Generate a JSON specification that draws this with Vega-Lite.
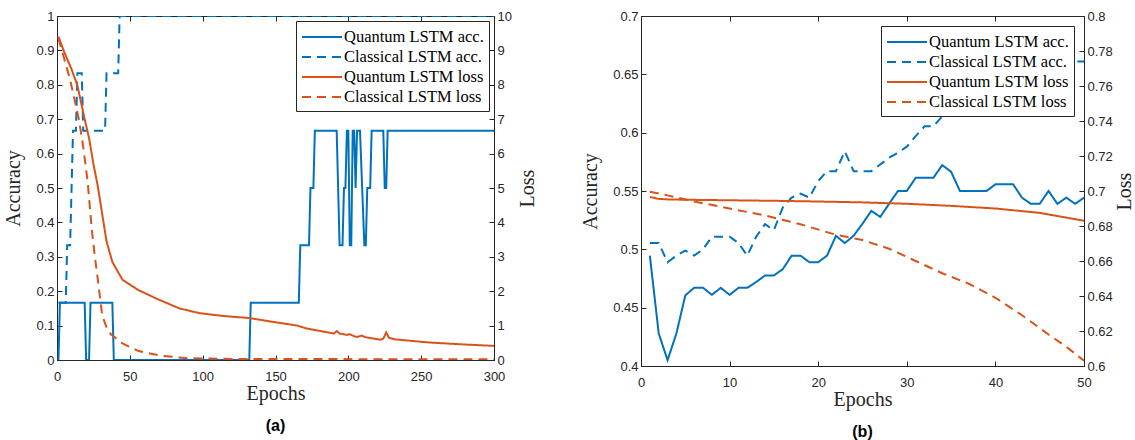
{
  "$schema": "https://vega.github.io/schema/vega-lite/v6.json",
  "background": "white",
  "padding": {"left": 3, "top": 9, "right": 0, "bottom": 0},
  "spacing": 42,
  "datasets": {
    "a_acc": [
      {"series": "Quantum LSTM acc.", "epoch": 1, "value": 0},
      {"series": "Quantum LSTM acc.", "epoch": 2, "value": 0.1667},
      {"series": "Quantum LSTM acc.", "epoch": 19, "value": 0.1667},
      {"series": "Quantum LSTM acc.", "epoch": 20, "value": 0},
      {"series": "Quantum LSTM acc.", "epoch": 22, "value": 0},
      {"series": "Quantum LSTM acc.", "epoch": 23, "value": 0.1667},
      {"series": "Quantum LSTM acc.", "epoch": 38, "value": 0.1667},
      {"series": "Quantum LSTM acc.", "epoch": 39, "value": 0},
      {"series": "Quantum LSTM acc.", "epoch": 132, "value": 0},
      {"series": "Quantum LSTM acc.", "epoch": 133, "value": 0.1667},
      {"series": "Quantum LSTM acc.", "epoch": 166, "value": 0.1667},
      {"series": "Quantum LSTM acc.", "epoch": 167, "value": 0.3333},
      {"series": "Quantum LSTM acc.", "epoch": 173, "value": 0.3333},
      {"series": "Quantum LSTM acc.", "epoch": 174, "value": 0.5},
      {"series": "Quantum LSTM acc.", "epoch": 176, "value": 0.5},
      {"series": "Quantum LSTM acc.", "epoch": 177, "value": 0.6667},
      {"series": "Quantum LSTM acc.", "epoch": 192, "value": 0.6667},
      {"series": "Quantum LSTM acc.", "epoch": 194, "value": 0.3333},
      {"series": "Quantum LSTM acc.", "epoch": 196, "value": 0.3333},
      {"series": "Quantum LSTM acc.", "epoch": 197, "value": 0.5},
      {"series": "Quantum LSTM acc.", "epoch": 198, "value": 0.5},
      {"series": "Quantum LSTM acc.", "epoch": 199, "value": 0.6667},
      {"series": "Quantum LSTM acc.", "epoch": 200, "value": 0.6667},
      {"series": "Quantum LSTM acc.", "epoch": 201, "value": 0.3333},
      {"series": "Quantum LSTM acc.", "epoch": 202, "value": 0.3333},
      {"series": "Quantum LSTM acc.", "epoch": 203, "value": 0.6667},
      {"series": "Quantum LSTM acc.", "epoch": 204, "value": 0.6667},
      {"series": "Quantum LSTM acc.", "epoch": 205, "value": 0.5},
      {"series": "Quantum LSTM acc.", "epoch": 206, "value": 0.6667},
      {"series": "Quantum LSTM acc.", "epoch": 208, "value": 0.6667},
      {"series": "Quantum LSTM acc.", "epoch": 211, "value": 0.3333},
      {"series": "Quantum LSTM acc.", "epoch": 212, "value": 0.3333},
      {"series": "Quantum LSTM acc.", "epoch": 213, "value": 0.5},
      {"series": "Quantum LSTM acc.", "epoch": 215, "value": 0.5},
      {"series": "Quantum LSTM acc.", "epoch": 216, "value": 0.6667},
      {"series": "Quantum LSTM acc.", "epoch": 224, "value": 0.6667},
      {"series": "Quantum LSTM acc.", "epoch": 225, "value": 0.5},
      {"series": "Quantum LSTM acc.", "epoch": 226, "value": 0.5},
      {"series": "Quantum LSTM acc.", "epoch": 227, "value": 0.6667},
      {"series": "Quantum LSTM acc.", "epoch": 300, "value": 0.6667},
      {"series": "Classical LSTM acc.", "epoch": 1, "value": 0.1667},
      {"series": "Classical LSTM acc.", "epoch": 6, "value": 0.1667},
      {"series": "Classical LSTM acc.", "epoch": 7, "value": 0.3333},
      {"series": "Classical LSTM acc.", "epoch": 9, "value": 0.3333},
      {"series": "Classical LSTM acc.", "epoch": 10, "value": 0.5},
      {"series": "Classical LSTM acc.", "epoch": 11, "value": 0.6667},
      {"series": "Classical LSTM acc.", "epoch": 13, "value": 0.6667},
      {"series": "Classical LSTM acc.", "epoch": 14, "value": 0.8333},
      {"series": "Classical LSTM acc.", "epoch": 17, "value": 0.8333},
      {"series": "Classical LSTM acc.", "epoch": 18, "value": 0.6667},
      {"series": "Classical LSTM acc.", "epoch": 33, "value": 0.6667},
      {"series": "Classical LSTM acc.", "epoch": 34, "value": 0.8333},
      {"series": "Classical LSTM acc.", "epoch": 42, "value": 0.8333},
      {"series": "Classical LSTM acc.", "epoch": 43, "value": 1},
      {"series": "Classical LSTM acc.", "epoch": 300, "value": 1}
    ],
    "a_loss": [
      {"series": "Quantum LSTM loss", "epoch": 1, "value": 9.4},
      {"series": "Quantum LSTM loss", "epoch": 5, "value": 8.95},
      {"series": "Quantum LSTM loss", "epoch": 10, "value": 8.45},
      {"series": "Quantum LSTM loss", "epoch": 14, "value": 7.98},
      {"series": "Quantum LSTM loss", "epoch": 19, "value": 7.0},
      {"series": "Quantum LSTM loss", "epoch": 22, "value": 6.45},
      {"series": "Quantum LSTM loss", "epoch": 25, "value": 5.7},
      {"series": "Quantum LSTM loss", "epoch": 28, "value": 5.05},
      {"series": "Quantum LSTM loss", "epoch": 31, "value": 4.25},
      {"series": "Quantum LSTM loss", "epoch": 34, "value": 3.45},
      {"series": "Quantum LSTM loss", "epoch": 38, "value": 2.85},
      {"series": "Quantum LSTM loss", "epoch": 45, "value": 2.33},
      {"series": "Quantum LSTM loss", "epoch": 56, "value": 2.03},
      {"series": "Quantum LSTM loss", "epoch": 68, "value": 1.79},
      {"series": "Quantum LSTM loss", "epoch": 84, "value": 1.5},
      {"series": "Quantum LSTM loss", "epoch": 98, "value": 1.36},
      {"series": "Quantum LSTM loss", "epoch": 114, "value": 1.28},
      {"series": "Quantum LSTM loss", "epoch": 132, "value": 1.22},
      {"series": "Quantum LSTM loss", "epoch": 148, "value": 1.11},
      {"series": "Quantum LSTM loss", "epoch": 165, "value": 1.0},
      {"series": "Quantum LSTM loss", "epoch": 171, "value": 0.92},
      {"series": "Quantum LSTM loss", "epoch": 190, "value": 0.77},
      {"series": "Quantum LSTM loss", "epoch": 192, "value": 0.84},
      {"series": "Quantum LSTM loss", "epoch": 194, "value": 0.77},
      {"series": "Quantum LSTM loss", "epoch": 199, "value": 0.73},
      {"series": "Quantum LSTM loss", "epoch": 201, "value": 0.75},
      {"series": "Quantum LSTM loss", "epoch": 204, "value": 0.69},
      {"series": "Quantum LSTM loss", "epoch": 206, "value": 0.67},
      {"series": "Quantum LSTM loss", "epoch": 209, "value": 0.71},
      {"series": "Quantum LSTM loss", "epoch": 212, "value": 0.66},
      {"series": "Quantum LSTM loss", "epoch": 222, "value": 0.59},
      {"series": "Quantum LSTM loss", "epoch": 224, "value": 0.62},
      {"series": "Quantum LSTM loss", "epoch": 226, "value": 0.8},
      {"series": "Quantum LSTM loss", "epoch": 228, "value": 0.64},
      {"series": "Quantum LSTM loss", "epoch": 232, "value": 0.6},
      {"series": "Quantum LSTM loss", "epoch": 255, "value": 0.51},
      {"series": "Quantum LSTM loss", "epoch": 280, "value": 0.45},
      {"series": "Quantum LSTM loss", "epoch": 300, "value": 0.41},
      {"series": "Classical LSTM loss", "epoch": 1, "value": 9.35},
      {"series": "Classical LSTM loss", "epoch": 5, "value": 8.75},
      {"series": "Classical LSTM loss", "epoch": 9, "value": 8.15},
      {"series": "Classical LSTM loss", "epoch": 15, "value": 7.0},
      {"series": "Classical LSTM loss", "epoch": 18, "value": 6.2},
      {"series": "Classical LSTM loss", "epoch": 21, "value": 5.2},
      {"series": "Classical LSTM loss", "epoch": 24, "value": 3.75},
      {"series": "Classical LSTM loss", "epoch": 26, "value": 3.0},
      {"series": "Classical LSTM loss", "epoch": 28, "value": 2.35},
      {"series": "Classical LSTM loss", "epoch": 31, "value": 1.3},
      {"series": "Classical LSTM loss", "epoch": 34, "value": 0.95},
      {"series": "Classical LSTM loss", "epoch": 37, "value": 0.75},
      {"series": "Classical LSTM loss", "epoch": 45, "value": 0.48},
      {"series": "Classical LSTM loss", "epoch": 56, "value": 0.26},
      {"series": "Classical LSTM loss", "epoch": 72, "value": 0.12},
      {"series": "Classical LSTM loss", "epoch": 90, "value": 0.05},
      {"series": "Classical LSTM loss", "epoch": 120, "value": 0.03},
      {"series": "Classical LSTM loss", "epoch": 300, "value": 0.02}
    ],
    "b_acc": [
      {"series": "Quantum LSTM acc.", "epoch": 1, "value": 0.4946},
      {"series": "Quantum LSTM acc.", "epoch": 2, "value": 0.4279},
      {"series": "Quantum LSTM acc.", "epoch": 3, "value": 0.405},
      {"series": "Quantum LSTM acc.", "epoch": 4, "value": 0.428},
      {"series": "Quantum LSTM acc.", "epoch": 5, "value": 0.4605},
      {"series": "Quantum LSTM acc.", "epoch": 6, "value": 0.467},
      {"series": "Quantum LSTM acc.", "epoch": 7, "value": 0.467},
      {"series": "Quantum LSTM acc.", "epoch": 8, "value": 0.461},
      {"series": "Quantum LSTM acc.", "epoch": 9, "value": 0.467},
      {"series": "Quantum LSTM acc.", "epoch": 10, "value": 0.461},
      {"series": "Quantum LSTM acc.", "epoch": 11, "value": 0.467},
      {"series": "Quantum LSTM acc.", "epoch": 12, "value": 0.467},
      {"series": "Quantum LSTM acc.", "epoch": 13, "value": 0.472},
      {"series": "Quantum LSTM acc.", "epoch": 14, "value": 0.4776},
      {"series": "Quantum LSTM acc.", "epoch": 15, "value": 0.4776},
      {"series": "Quantum LSTM acc.", "epoch": 16, "value": 0.483},
      {"series": "Quantum LSTM acc.", "epoch": 17, "value": 0.4946},
      {"series": "Quantum LSTM acc.", "epoch": 18, "value": 0.4946},
      {"series": "Quantum LSTM acc.", "epoch": 19, "value": 0.489},
      {"series": "Quantum LSTM acc.", "epoch": 20, "value": 0.489},
      {"series": "Quantum LSTM acc.", "epoch": 21, "value": 0.4946},
      {"series": "Quantum LSTM acc.", "epoch": 22, "value": 0.5116},
      {"series": "Quantum LSTM acc.", "epoch": 23, "value": 0.5054},
      {"series": "Quantum LSTM acc.", "epoch": 24, "value": 0.5116},
      {"series": "Quantum LSTM acc.", "epoch": 25, "value": 0.522},
      {"series": "Quantum LSTM acc.", "epoch": 26, "value": 0.533},
      {"series": "Quantum LSTM acc.", "epoch": 27, "value": 0.5278},
      {"series": "Quantum LSTM acc.", "epoch": 28, "value": 0.539},
      {"series": "Quantum LSTM acc.", "epoch": 29, "value": 0.55},
      {"series": "Quantum LSTM acc.", "epoch": 30, "value": 0.55},
      {"series": "Quantum LSTM acc.", "epoch": 31, "value": 0.5613},
      {"series": "Quantum LSTM acc.", "epoch": 32, "value": 0.5613},
      {"series": "Quantum LSTM acc.", "epoch": 33, "value": 0.5613},
      {"series": "Quantum LSTM acc.", "epoch": 34, "value": 0.5722},
      {"series": "Quantum LSTM acc.", "epoch": 35, "value": 0.5665},
      {"series": "Quantum LSTM acc.", "epoch": 36, "value": 0.55},
      {"series": "Quantum LSTM acc.", "epoch": 37, "value": 0.55},
      {"series": "Quantum LSTM acc.", "epoch": 38, "value": 0.55},
      {"series": "Quantum LSTM acc.", "epoch": 39, "value": 0.55},
      {"series": "Quantum LSTM acc.", "epoch": 40, "value": 0.5557},
      {"series": "Quantum LSTM acc.", "epoch": 41, "value": 0.5557},
      {"series": "Quantum LSTM acc.", "epoch": 42, "value": 0.5557},
      {"series": "Quantum LSTM acc.", "epoch": 43, "value": 0.5443},
      {"series": "Quantum LSTM acc.", "epoch": 44, "value": 0.539},
      {"series": "Quantum LSTM acc.", "epoch": 45, "value": 0.539},
      {"series": "Quantum LSTM acc.", "epoch": 46, "value": 0.55},
      {"series": "Quantum LSTM acc.", "epoch": 47, "value": 0.539},
      {"series": "Quantum LSTM acc.", "epoch": 48, "value": 0.5443},
      {"series": "Quantum LSTM acc.", "epoch": 49, "value": 0.539},
      {"series": "Quantum LSTM acc.", "epoch": 50, "value": 0.5443},
      {"series": "Classical LSTM acc.", "epoch": 1, "value": 0.5054},
      {"series": "Classical LSTM acc.", "epoch": 2, "value": 0.5054},
      {"series": "Classical LSTM acc.", "epoch": 3, "value": 0.4889},
      {"series": "Classical LSTM acc.", "epoch": 4, "value": 0.4946},
      {"series": "Classical LSTM acc.", "epoch": 5, "value": 0.4989},
      {"series": "Classical LSTM acc.", "epoch": 6, "value": 0.4946},
      {"series": "Classical LSTM acc.", "epoch": 7, "value": 0.5},
      {"series": "Classical LSTM acc.", "epoch": 8, "value": 0.5108},
      {"series": "Classical LSTM acc.", "epoch": 9, "value": 0.5108},
      {"series": "Classical LSTM acc.", "epoch": 10, "value": 0.5108},
      {"series": "Classical LSTM acc.", "epoch": 11, "value": 0.5054},
      {"series": "Classical LSTM acc.", "epoch": 12, "value": 0.4946},
      {"series": "Classical LSTM acc.", "epoch": 13, "value": 0.5108},
      {"series": "Classical LSTM acc.", "epoch": 14, "value": 0.5216},
      {"series": "Classical LSTM acc.", "epoch": 15, "value": 0.5165},
      {"series": "Classical LSTM acc.", "epoch": 16, "value": 0.5358},
      {"series": "Classical LSTM acc.", "epoch": 17, "value": 0.5443},
      {"series": "Classical LSTM acc.", "epoch": 18, "value": 0.5477},
      {"series": "Classical LSTM acc.", "epoch": 19, "value": 0.5443},
      {"series": "Classical LSTM acc.", "epoch": 20, "value": 0.5585},
      {"series": "Classical LSTM acc.", "epoch": 21, "value": 0.567},
      {"series": "Classical LSTM acc.", "epoch": 22, "value": 0.567},
      {"series": "Classical LSTM acc.", "epoch": 23, "value": 0.584},
      {"series": "Classical LSTM acc.", "epoch": 24, "value": 0.567},
      {"series": "Classical LSTM acc.", "epoch": 25, "value": 0.567},
      {"series": "Classical LSTM acc.", "epoch": 26, "value": 0.567},
      {"series": "Classical LSTM acc.", "epoch": 27, "value": 0.5727},
      {"series": "Classical LSTM acc.", "epoch": 28, "value": 0.5785},
      {"series": "Classical LSTM acc.", "epoch": 29, "value": 0.5827},
      {"series": "Classical LSTM acc.", "epoch": 30, "value": 0.588},
      {"series": "Classical LSTM acc.", "epoch": 31, "value": 0.597},
      {"series": "Classical LSTM acc.", "epoch": 32, "value": 0.6054},
      {"series": "Classical LSTM acc.", "epoch": 33, "value": 0.6054},
      {"series": "Classical LSTM acc.", "epoch": 34, "value": 0.614},
      {"series": "Classical LSTM acc.", "epoch": 35, "value": 0.628},
      {"series": "Classical LSTM acc.", "epoch": 36, "value": 0.638},
      {"series": "Classical LSTM acc.", "epoch": 37, "value": 0.645},
      {"series": "Classical LSTM acc.", "epoch": 38, "value": 0.652},
      {"series": "Classical LSTM acc.", "epoch": 39, "value": 0.658},
      {"series": "Classical LSTM acc.", "epoch": 40, "value": 0.662},
      {"series": "Classical LSTM acc.", "epoch": 41, "value": 0.668},
      {"series": "Classical LSTM acc.", "epoch": 42, "value": 0.672},
      {"series": "Classical LSTM acc.", "epoch": 43, "value": 0.675},
      {"series": "Classical LSTM acc.", "epoch": 44, "value": 0.673},
      {"series": "Classical LSTM acc.", "epoch": 45, "value": 0.676},
      {"series": "Classical LSTM acc.", "epoch": 46, "value": 0.672},
      {"series": "Classical LSTM acc.", "epoch": 47, "value": 0.668},
      {"series": "Classical LSTM acc.", "epoch": 48, "value": 0.665},
      {"series": "Classical LSTM acc.", "epoch": 49, "value": 0.661},
      {"series": "Classical LSTM acc.", "epoch": 50, "value": 0.661}
    ],
    "b_loss": [
      {"series": "Quantum LSTM loss", "epoch": 1, "value": 0.6966},
      {"series": "Quantum LSTM loss", "epoch": 2, "value": 0.6955},
      {"series": "Quantum LSTM loss", "epoch": 3, "value": 0.6952},
      {"series": "Quantum LSTM loss", "epoch": 5, "value": 0.695},
      {"series": "Quantum LSTM loss", "epoch": 10, "value": 0.6947},
      {"series": "Quantum LSTM loss", "epoch": 15, "value": 0.6944},
      {"series": "Quantum LSTM loss", "epoch": 20, "value": 0.694},
      {"series": "Quantum LSTM loss", "epoch": 25, "value": 0.6935},
      {"series": "Quantum LSTM loss", "epoch": 30, "value": 0.6927},
      {"series": "Quantum LSTM loss", "epoch": 35, "value": 0.6915},
      {"series": "Quantum LSTM loss", "epoch": 40, "value": 0.69},
      {"series": "Quantum LSTM loss", "epoch": 45, "value": 0.6875},
      {"series": "Quantum LSTM loss", "epoch": 50, "value": 0.683},
      {"series": "Classical LSTM loss", "epoch": 1, "value": 0.6996},
      {"series": "Classical LSTM loss", "epoch": 3, "value": 0.6975},
      {"series": "Classical LSTM loss", "epoch": 6, "value": 0.694},
      {"series": "Classical LSTM loss", "epoch": 10, "value": 0.69},
      {"series": "Classical LSTM loss", "epoch": 14, "value": 0.686},
      {"series": "Classical LSTM loss", "epoch": 18, "value": 0.681},
      {"series": "Classical LSTM loss", "epoch": 22, "value": 0.675},
      {"series": "Classical LSTM loss", "epoch": 25, "value": 0.672},
      {"series": "Classical LSTM loss", "epoch": 28, "value": 0.667},
      {"series": "Classical LSTM loss", "epoch": 31, "value": 0.66},
      {"series": "Classical LSTM loss", "epoch": 34, "value": 0.653},
      {"series": "Classical LSTM loss", "epoch": 37, "value": 0.647},
      {"series": "Classical LSTM loss", "epoch": 40, "value": 0.639},
      {"series": "Classical LSTM loss", "epoch": 43, "value": 0.629},
      {"series": "Classical LSTM loss", "epoch": 46, "value": 0.618},
      {"series": "Classical LSTM loss", "epoch": 48, "value": 0.611},
      {"series": "Classical LSTM loss", "epoch": 50, "value": 0.603}
    ]
  },
  "hconcat": [
    {
      "width": 437,
      "height": 344,
      "title": {"text": "(a)", "orient": "bottom", "frame": "group", "anchor": "middle", "offset": 15},
      "layer": [
        {
          "data": {"name": "a_acc"},
          "mark": {"type": "line", "strokeWidth": 2, "clip": true},
          "encoding": {
            "x": {"field": "epoch", "type": "quantitative", "scale": {"domain": [0, 300], "nice": false},
                  "axis": {"values": [0, 50, 100, 150, 200, 250, 300], "title": "Epochs", "labelPadding": 15, "titlePadding": 0}},
            "y": {"field": "value", "type": "quantitative", "scale": {"domain": [0, 1], "nice": false, "zero": false},
                  "axis": {"values": [0, 0.1, 0.2, 0.3, 0.4, 0.5, 0.6, 0.7, 0.8, 0.9, 1], "format": "~g", "title": "Accuracy", "orient": "left", "titlePadding": 12}},
            "color": {"field": "series", "type": "nominal",
                      "scale": {"domain": ["Quantum LSTM acc.", "Classical LSTM acc.", "Quantum LSTM loss", "Classical LSTM loss"], "range": ["#0072BD", "#0072BD", "#D95319", "#D95319"]},
                      "legend": {"title": null, "orient": "top-right", "offset": 5}},
            "strokeDash": {"field": "series", "type": "nominal",
                      "scale": {"domain": ["Quantum LSTM acc.", "Classical LSTM acc.", "Quantum LSTM loss", "Classical LSTM loss"], "range": [[1, 0], [9, 6], [1, 0], [9, 6]]},
                      "legend": {"title": null, "orient": "top-right", "offset": 5}}
          }
        },
        {
          "data": {"name": "a_loss"},
          "mark": {"type": "line", "strokeWidth": 2, "clip": true},
          "encoding": {
            "x": {"field": "epoch", "type": "quantitative", "scale": {"domain": [0, 300], "nice": false},
                  "axis": {"values": [0, 50, 100, 150, 200, 250, 300], "orient": "top", "labels": false, "title": null, "domain": false}},
            "y": {"field": "value", "type": "quantitative", "scale": {"domain": [0, 10], "nice": false, "zero": false},
                  "axis": {"values": [0, 1, 2, 3, 4, 5, 6, 7, 8, 9, 10], "format": "d", "title": "Loss", "orient": "right", "titleAngle": 270, "titleBaseline": "top", "titlePadding": 6}},
            "color": {"field": "series", "type": "nominal",
                      "scale": {"domain": ["Quantum LSTM acc.", "Classical LSTM acc.", "Quantum LSTM loss", "Classical LSTM loss"], "range": ["#0072BD", "#0072BD", "#D95319", "#D95319"]},
                      "legend": {"title": null, "orient": "top-right", "offset": 5}},
            "strokeDash": {"field": "series", "type": "nominal",
                      "scale": {"domain": ["Quantum LSTM acc.", "Classical LSTM acc.", "Quantum LSTM loss", "Classical LSTM loss"], "range": [[1, 0], [9, 6], [1, 0], [9, 6]]},
                      "legend": {"title": null, "orient": "top-right", "offset": 5}}
          }
        }
      ],
      "resolve": {"scale": {"y": "independent"}, "axis": {"x": "independent"}}
    },
    {
      "width": 443,
      "height": 350,
      "title": {"text": "(b)", "orient": "bottom", "frame": "group", "anchor": "middle", "offset": 15},
      "layer": [
        {
          "data": {"name": "b_acc"},
          "mark": {"type": "line", "strokeWidth": 2, "clip": true},
          "encoding": {
            "x": {"field": "epoch", "type": "quantitative", "scale": {"domain": [0, 50], "nice": false},
                  "axis": {"values": [0, 10, 20, 30, 40, 50], "title": "Epochs", "labelPadding": 15, "titlePadding": 0}},
            "y": {"field": "value", "type": "quantitative", "scale": {"domain": [0.4, 0.7], "nice": false, "zero": false},
                  "axis": {"values": [0.4, 0.45, 0.5, 0.55, 0.6, 0.65, 0.7], "format": "~g", "title": "Accuracy", "orient": "left", "titlePadding": 12}},
            "color": {"field": "series", "type": "nominal",
                      "scale": {"domain": ["Quantum LSTM acc.", "Classical LSTM acc.", "Quantum LSTM loss", "Classical LSTM loss"], "range": ["#0072BD", "#0072BD", "#D95319", "#D95319"]},
                      "legend": {"title": null, "orient": "top-right", "offset": 10}},
            "strokeDash": {"field": "series", "type": "nominal",
                      "scale": {"domain": ["Quantum LSTM acc.", "Classical LSTM acc.", "Quantum LSTM loss", "Classical LSTM loss"], "range": [[1, 0], [9, 6], [1, 0], [9, 6]]},
                      "legend": {"title": null, "orient": "top-right", "offset": 10}}
          }
        },
        {
          "data": {"name": "b_loss"},
          "mark": {"type": "line", "strokeWidth": 2, "clip": true},
          "encoding": {
            "x": {"field": "epoch", "type": "quantitative", "scale": {"domain": [0, 50], "nice": false},
                  "axis": {"values": [0, 10, 20, 30, 40, 50], "orient": "top", "labels": false, "title": null, "domain": false}},
            "y": {"field": "value", "type": "quantitative", "scale": {"domain": [0.6, 0.8], "nice": false, "zero": false},
                  "axis": {"values": [0.6, 0.62, 0.64, 0.66, 0.68, 0.7, 0.72, 0.74, 0.76, 0.78, 0.8], "format": "~g", "title": "Loss", "orient": "right", "titleAngle": 270, "titleBaseline": "top", "titlePadding": 2}},
            "color": {"field": "series", "type": "nominal",
                      "scale": {"domain": ["Quantum LSTM acc.", "Classical LSTM acc.", "Quantum LSTM loss", "Classical LSTM loss"], "range": ["#0072BD", "#0072BD", "#D95319", "#D95319"]},
                      "legend": {"title": null, "orient": "top-right", "offset": 10}},
            "strokeDash": {"field": "series", "type": "nominal",
                      "scale": {"domain": ["Quantum LSTM acc.", "Classical LSTM acc.", "Quantum LSTM loss", "Classical LSTM loss"], "range": [[1, 0], [9, 6], [1, 0], [9, 6]]},
                      "legend": {"title": null, "orient": "top-right", "offset": 10}}
          }
        }
      ],
      "resolve": {"scale": {"y": "independent"}, "axis": {"x": "independent"}}
    }
  ],
  "resolve": {"scale": {"color": "independent", "strokeDash": "independent"}, "legend": {"color": "independent", "strokeDash": "independent"}},
  "config": {
    "view": {"stroke": "#262626", "strokeWidth": 1},
    "axis": {
      "grid": false,
      "labelFont": "Liberation Sans", "labelFontSize": 13, "labelColor": "#262626",
      "titleFont": "Liberation Serif", "titleFontSize": 20, "titleFontWeight": "normal", "titleColor": "#262626",
      "domainColor": "#262626", "tickColor": "#262626", "tickSize": -5, "labelPadding": 8, "titlePadding": 6,
      "labelFlush": false, "labelOverlap": false
    },
    "legend": {
      "labelFont": "Liberation Serif", "labelFontSize": 16.5, "labelColor": "#000000", "labelLimit": 300,
      "symbolType": "M-1,0L3,0", "symbolSize": 400, "symbolStrokeWidth": 2,
      "strokeColor": "#262626", "fillColor": "white", "padding": 5, "rowPadding": 0, "labelOffset": 21
    },
    "title": {"font": "Liberation Sans", "fontSize": 16, "fontWeight": "bold", "color": "#000000"}
  }
}
